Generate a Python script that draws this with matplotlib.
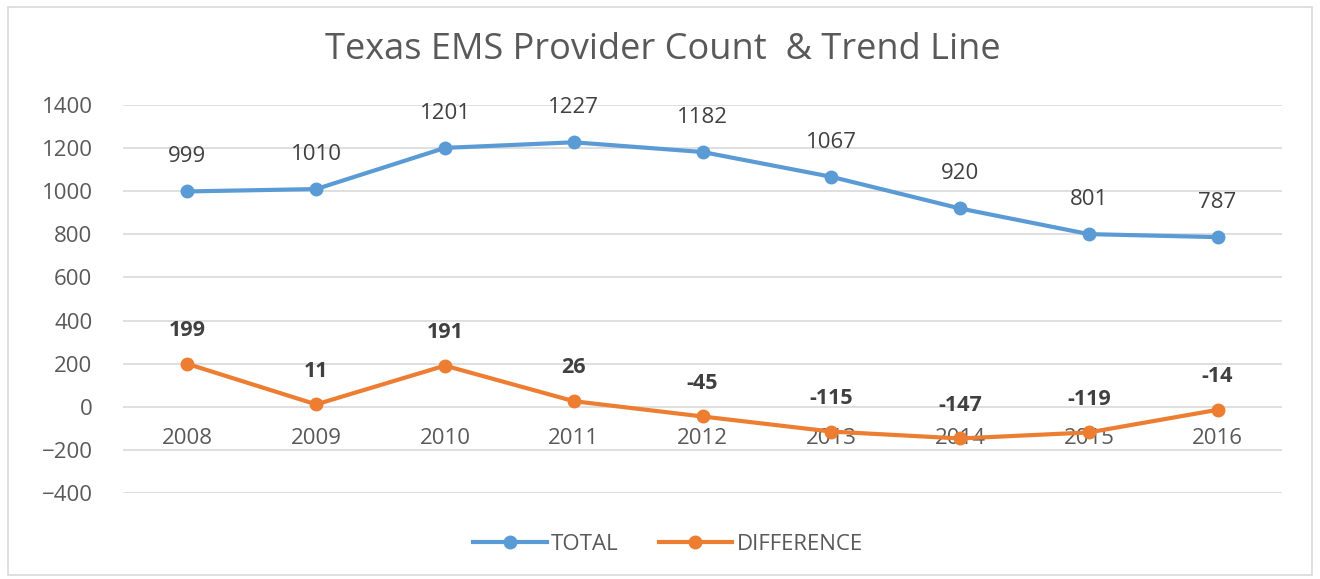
import matplotlib.pyplot as plt
from matplotlib.patches import Rectangle

plt.rcParams['font.family'] = ['Open Sans', 'DejaVu Sans']

# 数据
years = ['2008', '2009', '2010', '2011', '2012', '2013', '2014', '2015', '2016']
total = [999, 1010, 1201, 1227, 1182, 1067, 920, 801, 787]
difference = [199, 11, 191, 26, -45, -115, -147, -119, -14]
yticks = [-400, -200, 0, 200, 400, 600, 800, 1000, 1200, 1400]

blue = '#5B9BD5'
orange = '#ED7D31'
grey = '#595959'

fig = plt.figure(figsize=(13.2, 5.79), dpi=100)
ax = fig.add_axes([123 / 1320, 1 - 493 / 579, (1282 - 123) / 1320, (493 - 105) / 579])

x = list(range(len(years)))
ax.plot(x, total, color=blue, lw=3, marker='o', ms=9, label='TOTAL', zorder=3)
ax.plot(x, difference, color=orange, lw=3, marker='o', ms=9, label='DIFFERENCE', zorder=3)

# 数据标签
for i, v in enumerate(total):
    ax.annotate(str(v), (i, v), xytext=(0, 25), textcoords='offset points',
                ha='center', va='center', fontsize=16, color='#404040')
for i, v in enumerate(difference):
    ax.annotate(str(v), (i, v), xytext=(0, 24), textcoords='offset points',
                ha='center', va='center', fontsize=15.5, color='#404040', fontweight='bold')

ax.set_xlim(-0.5, len(years) - 0.5)
ax.set_ylim(-400, 1400)
ax.set_yticks(yticks)
ax.yaxis.grid(True, color='#D9D9D9', lw=1.2)
ax.set_axisbelow(True)
for s in ['top', 'right', 'left']:
    ax.spines[s].set_visible(False)
ax.spines['bottom'].set_position(('data', 0))
ax.spines['bottom'].set_visible(False)
ax.set_xticks(x)
ax.set_xticklabels(years)
ax.tick_params(axis='x', length=0, pad=15, labelsize=16, labelcolor=grey)
ax.tick_params(axis='y', length=0, pad=22, labelsize=16, labelcolor=grey)

fig.text(0.502, 1 - 50 / 579, 'Texas EMS Provider Count  & Trend Line', ha='center', va='center',
         fontsize=26, color=grey)

fig.legend(loc='center', bbox_to_anchor=(668 / 1320, 1 - 544 / 579), ncol=2, frameon=False,
           fontsize=16, labelcolor=grey, handlelength=3.3, handletextpad=0.2, columnspacing=1.8)

fig.patches.append(Rectangle((8 / 1320, 4 / 579), 1304 / 1320, 568 / 579, transform=fig.transFigure,
                             fill=False, edgecolor='#D9D9D9', lw=1.2))

fig.savefig('out.png', dpi=100)
